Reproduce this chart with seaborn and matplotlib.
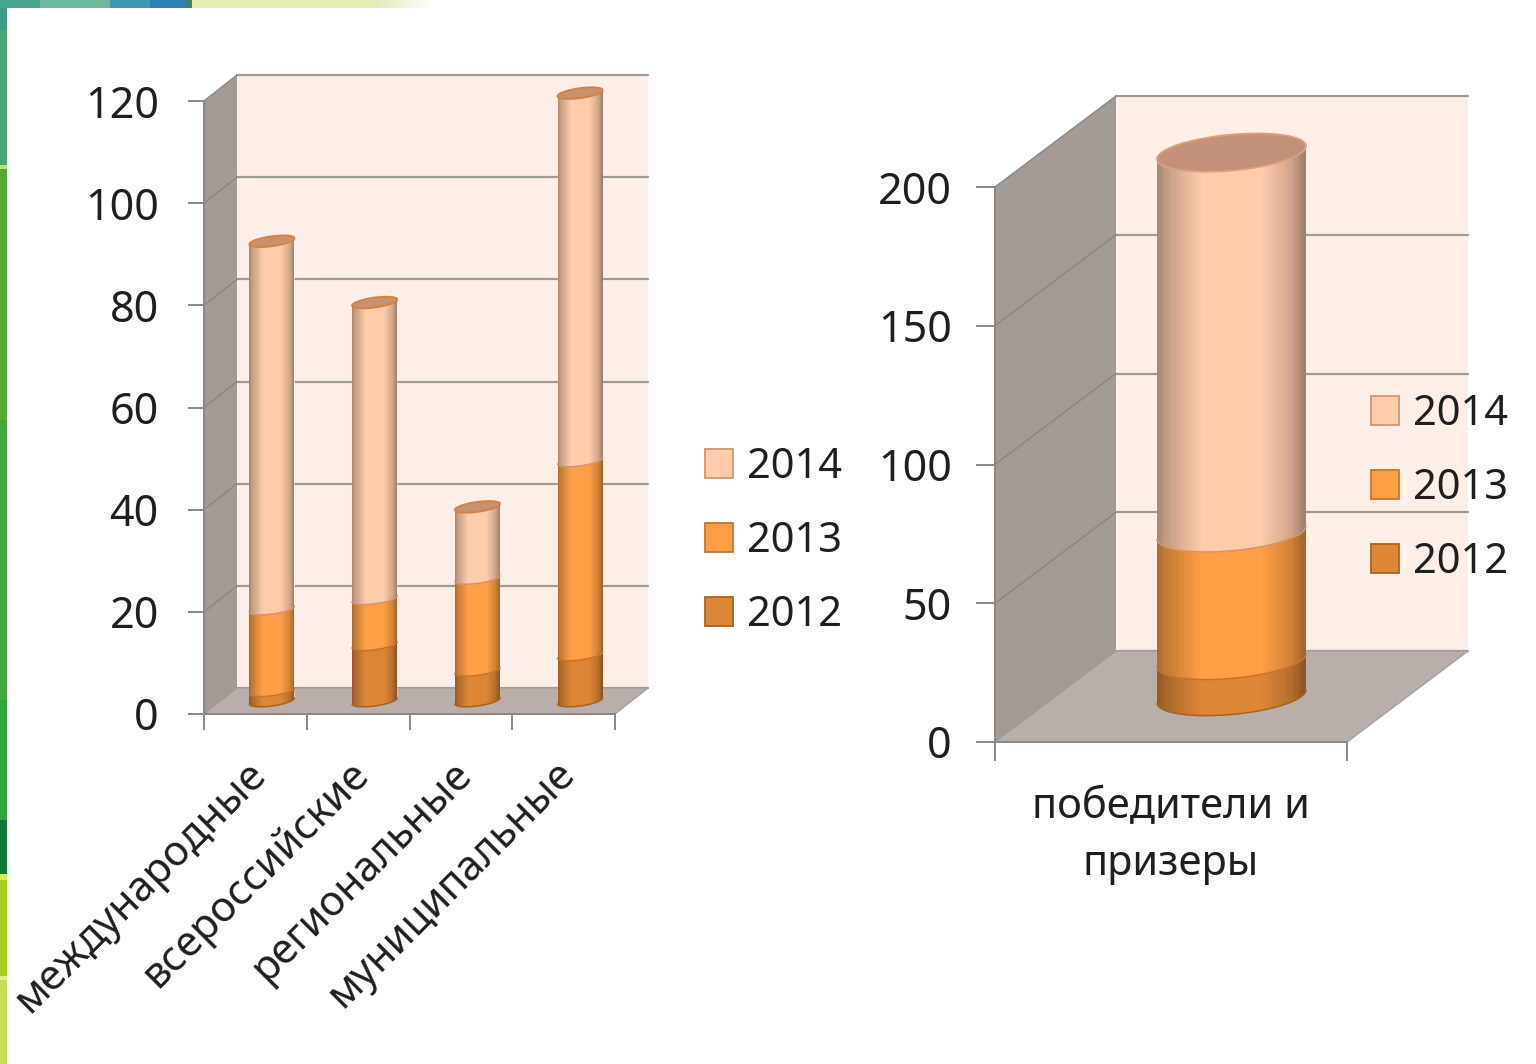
import numpy as np
import matplotlib
matplotlib.use("Agg")
import matplotlib.pyplot as plt
import matplotlib.patches as mpatches
from matplotlib.path import Path
from matplotlib.transforms import Affine2D
from matplotlib.colors import to_rgb
import seaborn as sns

categories_left = ["международные", "всероссийские", "региональные", "муниципальные"]
values_2012_left = [2, 11, 6, 9]
values_2013_left = [16, 9, 18, 38]
values_2014_left = [72, 58, 14, 72]
yticks_left = [0, 20, 40, 60, 80, 100, 120]

categories_right = ["победители и\nпризеры"]
values_2012_right = [13]
values_2013_right = [46]
values_2014_right = [137]
yticks_right = [0, 50, 100, 150, 200]

years = ["2012", "2013", "2014"]
bar_colors = ["#DD8638", "#FF9F45", "#FFCBAA"]
edge_colors = ["#A96420", "#C97524", "#CF9670"]

W, H = 1536, 1064
sns.set_theme(style="white")
plt.rcParams["font.family"] = ["Noto Sans", "DejaVu Sans"]
TEXT = "#1f1f1f"
fig = plt.figure(figsize=(W / 100, H / 100), dpi=100, facecolor="white")


def box(x0, x1, ytop, ybot):
    return [x0 / W, 1 - ybot / H, (x1 - x0) / W, (ybot - ytop) / H]


# slide decoration behind the charts
bg = fig.add_axes([0, 0, 1, 1], zorder=-5)
bg.set_xlim(0, W)
bg.set_ylim(H, 0)
bg.axis("off")
stripe = [(0, 30, "#3f9f84"), (30, 165, "#45a874"), (165, 169, "#b8e08a"), (169, 420, "#55ab2e"),
          (420, 700, "#3fa838"), (700, 820, "#2fa43a"), (820, 874, "#0d7a38"), (874, 880, "#d6ec50"),
          (880, 976, "#a8cc22"), (976, 980, "#e6f08a"), (980, 1064, "#c4de58")]
for y0, y1, c in stripe:
    bg.add_patch(mpatches.Rectangle((0, y0), 7, y1 - y0, color=c, lw=0))
top = [(0, 40, "#4aa58e"), (40, 110, "#6fb9a0"), (110, 150, "#3d9bb0"), (150, 185, "#2a80b4"), (185, 192, "#3f7f70")]
for x0, x1, c in top:
    bg.add_patch(mpatches.Rectangle((x0, 0), x1 - x0, 8, color=c, lw=0))
fade = np.ones((1, 256, 4))
fade[..., :3] = to_rgb("#e3edb4")
fade[..., 3] = np.clip((1 - np.linspace(0, 1, 256)) * 4, 0, 1)
bg.imshow(fade, extent=[192, 435, 8, 0], aspect="auto")
bg.set_xlim(0, W)
bg.set_ylim(H, 0)


def shade(color, n=128):
    u = np.linspace(0, 1, n)
    s = np.interp(u, [0, 0.05, 0.3, 0.7, 0.9, 1.0], [0.66, 0.76, 1.0, 1.0, 0.82, 0.62])
    rgb = np.array(to_rgb(color))
    return (s[:, None] * rgb)[None, :, :]


def panel(pos, cats, stacks, ticks, ymax, bar_w, depth, arc_b, arc_t, tick_len, ypad, cap_col, cap_edge,
          label_rot, xpad, legend_xy):
    ax = fig.add_axes(box(*pos))
    ax.patch.set_alpha(0)
    n = len(cats)
    xlim = (-0.5, n - 0.5)
    sx = (pos[1] - pos[0]) / n
    sy = (pos[3] - pos[2]) / ymax
    dx, dy = depth[0] / sx, depth[1] / sy

    # walls, floor and gridlines on the depth planes
    ax.add_patch(mpatches.Polygon([(xlim[0] + dx, 0 + dy), (xlim[1] + dx, 0 + dy), (xlim[1] + dx, ymax + dy),
                                   (xlim[0] + dx, ymax + dy)], fc="#FDEEE8", ec="none", clip_on=False, zorder=0.5))
    ax.add_patch(mpatches.Polygon([(xlim[0], 0), (xlim[0] + dx, dy), (xlim[0] + dx, ymax + dy), (xlim[0], ymax)],
                                  fc="#A39B96", ec="none", clip_on=False, zorder=0.6))
    for t in ticks:
        ax.plot([xlim[0] + dx, xlim[1] + dx], [t + dy, t + dy], color="#A09A90", lw=1.6, clip_on=False, zorder=0.7)
        ax.plot([xlim[0], xlim[0] + dx], [t, t + dy], color="#8C8580", lw=1.0, clip_on=False, zorder=0.7)
    ax.add_patch(mpatches.Polygon([(xlim[0], 0), (xlim[1], 0), (xlim[1] + dx, dy), (xlim[0] + dx, dy)],
                                  fc="#B8AFAB", ec="#A5A09C", lw=1.0, clip_on=False, zorder=0.8))

    # the bars stand half way along the depth of the floor
    offset = Affine2D().translate(dx / 2, dy / 2) + ax.transData
    a_frac = bar_w / 2
    theta = np.linspace(np.pi, 2 * np.pi, 60)
    arc_x = a_frac * np.cos(theta)
    arc_y_lo = (arc_t * np.cos(theta) + arc_b * np.sin(theta)) / sy

    cum = np.zeros(n)
    for year, vals, col, ec in zip(years, stacks, bar_colors, edge_colors):
        sns.barplot(x=cats, y=vals, bottom=cum, color=col, width=bar_w, saturation=1, ax=ax, legend=False, zorder=2)
        for i, rect in enumerate(ax.containers[-1]):
            base, toph = cum[i], cum[i] + vals[i]
            verts = list(zip(i + arc_x, base + arc_y_lo))
            verts += [(i + a_frac, toph + arc_t / sy), (i - a_frac, toph - arc_t / sy), verts[0]]
            clip = Path(verts, closed=True)
            rect.set_transform(offset)
            rect.set_clip_box(fig.bbox)
            rect.set_clip_path(clip, transform=offset)
            xe = np.linspace(i - a_frac, i + a_frac, 129)
            ye = [base - 2 * arc_b / sy, toph + 2 * arc_b / sy]
            mesh = ax.pcolormesh(xe, ye, shade(col), zorder=2, antialiased=False, linewidth=0)
            mesh.set_transform(offset)
            mesh.set_clip_box(fig.bbox)
            mesh.set_clip_path(clip, transform=offset)
            ax.plot(i + arc_x, base + arc_y_lo, color=ec, lw=1.1, transform=offset, clip_on=False, zorder=2.1)
        cum = cum + np.array(vals)

    # top caps
    full = np.linspace(0, 2 * np.pi, 100)
    for i in range(n):
        cap = np.column_stack([i + a_frac * np.cos(full),
                               cum[i] + (arc_t * np.cos(full) + arc_b * np.sin(full)) / sy])
        ax.add_patch(mpatches.Polygon(cap, fc=cap_col, ec=cap_edge, lw=1.3, transform=offset, clip_on=False, zorder=3))

    ax.set_xlim(*xlim)
    ax.set_ylim(0, ymax)
    for s in ["top", "right"]:
        ax.spines[s].set_visible(False)
    for s in ["left", "bottom"]:
        ax.spines[s].set_color("#8C8580")
        ax.spines[s].set_linewidth(1.4)
        ax.spines[s].set_zorder(1)
    ax.set_yticks(ticks)
    ax.set_yticklabels([str(t) for t in ticks], fontsize=31, color=TEXT)
    ax.tick_params(axis="y", length=tick_len, width=1.3, color="#7f7f7f", pad=ypad, left=True)
    ax.set_xticks(np.arange(-0.5, n, 1), minor=True)
    ax.tick_params(axis="x", which="minor", length=tick_len, width=1.3, color="#7f7f7f", bottom=True)
    ax.set_xticks(range(n))
    ax.tick_params(axis="x", which="major", length=0, pad=xpad)
    if label_rot:
        ax.set_xticklabels(cats, rotation=label_rot, ha="right", rotation_mode="anchor", fontsize=30, color=TEXT)
        for lab in ax.get_xticklabels():
            lab.set_transform(lab.get_transform() + Affine2D().translate(-10, 0))
    else:
        ax.set_xticklabels(cats, fontsize=30, color=TEXT, linespacing=1.47)
    ax.set_xlabel("")
    ax.set_ylabel("")

    handles = [mpatches.Patch(fc=c, ec=e, lw=1.3) for c, e in zip(bar_colors[::-1], edge_colors[::-1])]
    leg = ax.legend(handles, years[::-1], loc="center left", frameon=False, fontsize=30,
                    bbox_transform=fig.transFigure, bbox_to_anchor=(legend_xy[0] / W, 1 - legend_xy[1] / H),
                    handlelength=0.68, handleheight=0.68, handletextpad=0.33, labelspacing=0.77,
                    borderpad=0, borderaxespad=0, labelcolor=TEXT)
    leg.set_zorder(6)
    return ax


panel((204, 615, 101, 714), categories_left, [values_2012_left, values_2013_left, values_2014_left],
      yticks_left, 120, 0.44, (33, 26), 5, 3, 11.5, 21, "#C9916E", "#D9803F", 45, 28, (705, 541))
panel((995, 1347, 187, 742), categories_right, [values_2012_right, values_2013_right, values_2014_right],
      yticks_right, 200, 0.423, (121, 91), 18, 6.5, 14, 17, "#C39278", "#DDA080", 0, 32, (1371, 488))

fig.savefig("out.png", dpi=100)
